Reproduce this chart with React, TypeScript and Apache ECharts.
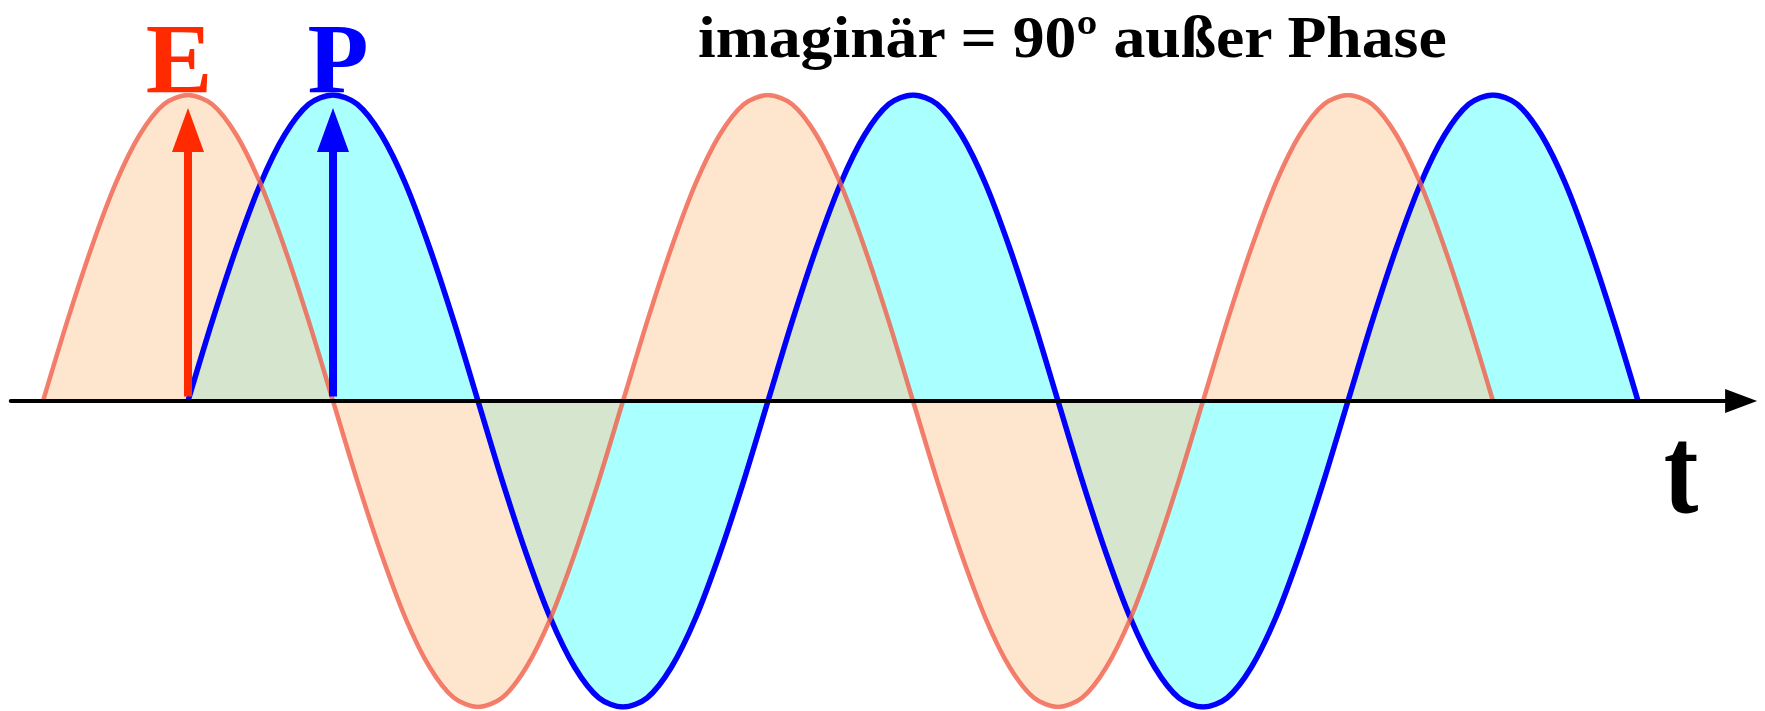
import React, { useEffect, useRef } from "react";
import * as echarts from "echarts";

// Phase positions (degrees) and amplitudes, every 15 degrees
const E_PHASE = [
  0, 15, 30, 45, 60, 75, 90, 105, 120, 135, 150, 165, 180, 195, 210, 225, 240, 255, 270, 285, 300, 315, 330, 345,
  360, 375, 390, 405, 420, 435, 450, 465, 480, 495, 510, 525, 540, 555, 570, 585, 600, 615, 630, 645, 660, 675, 690, 705,
  720, 735, 750, 765, 780, 795, 810, 825, 840, 855, 870, 885, 900,
];
const E_VALUES = [
  0, 0.26, 0.5, 0.71, 0.87, 0.97, 1, 0.97, 0.87, 0.71, 0.5, 0.26, 0, -0.26, -0.5, -0.71, -0.87, -0.97, -1, -0.97, -0.87, -0.71, -0.5, -0.26,
  0, 0.26, 0.5, 0.71, 0.87, 0.97, 1, 0.97, 0.87, 0.71, 0.5, 0.26, 0, -0.26, -0.5, -0.71, -0.87, -0.97, -1, -0.97, -0.87, -0.71, -0.5, -0.26,
  0, 0.26, 0.5, 0.71, 0.87, 0.97, 1, 0.97, 0.87, 0.71, 0.5, 0.26, 0,
];
const P_PHASE = [
  90, 105, 120, 135, 150, 165, 180, 195, 210, 225, 240, 255, 270, 285, 300, 315, 330, 345, 360, 375, 390, 405, 420, 435,
  450, 465, 480, 495, 510, 525, 540, 555, 570, 585, 600, 615, 630, 645, 660, 675, 690, 705, 720, 735, 750, 765, 780, 795,
  810, 825, 840, 855, 870, 885, 900, 915, 930, 945, 960, 975, 990,
];
const P_VALUES = [
  0, 0.26, 0.5, 0.71, 0.87, 0.97, 1, 0.97, 0.87, 0.71, 0.5, 0.26, 0, -0.26, -0.5, -0.71, -0.87, -0.97, -1, -0.97, -0.87, -0.71, -0.5, -0.26,
  0, 0.26, 0.5, 0.71, 0.87, 0.97, 1, 0.97, 0.87, 0.71, 0.5, 0.26, 0, -0.26, -0.5, -0.71, -0.87, -0.97, -1, -0.97, -0.87, -0.71, -0.5, -0.26,
  0, 0.26, 0.5, 0.71, 0.87, 0.97, 1, 0.97, 0.87, 0.71, 0.5, 0.26, 0,
];

// Phasor arrows: [phase, start value, end value]
const E_ARROW = [90, 0.015, 0.886];
const P_ARROW = [180, 0.015, 0.886];

const TITLE = "imaginär = 90º außer Phase";
const E_LABEL = "E";
const P_LABEL = "P";
const AXIS_LABEL = "t";

const X_MIN = -20;
const X_MAX = 1054;

export default function App() {
  const ref = useRef<HTMLDivElement>(null);
  useEffect(() => {
    if (!ref.current) return;
    const chart = echarts.init(ref.current, undefined, { renderer: "svg" });
    const pxPerDeg = 1450 / 900;
    const originPx = 43;
    const serif = "'Liberation Serif', 'Times New Roman', serif";
    const red = "#ff2a00";
    const blue = "#0000ff";
    const zip = (xs: number[], ys: number[]) => xs.map((x, i) => [x, ys[i]]);

    chart.setOption({
      animation: false,
      backgroundColor: "#ffffff",
      grid: {
        left: originPx + X_MIN * pxPerDeg,
        width: (X_MAX - X_MIN) * pxPerDeg,
        top: 95,
        height: 612,
        containLabel: false,
      },
      xAxis: {
        type: "value",
        min: X_MIN,
        max: X_MAX,
        z: 10,
        axisLine: {
          show: true,
          onZero: true,
          symbol: ["none", "triangle"],
          symbolSize: [24, 32],
          lineStyle: { color: "#000000", width: 4 },
        },
        axisTick: { show: false },
        axisLabel: { show: false },
        splitLine: { show: false },
      },
      yAxis: {
        type: "value",
        min: -1,
        max: 1,
        show: false,
        splitLine: { show: false },
      },
      series: [
        {
          name: "P",
          type: "line",
          data: zip(P_PHASE, P_VALUES),
          smooth: 0.3,
          showSymbol: false,
          silent: true,
          lineStyle: { color: blue, width: 5.5 },
          areaStyle: { color: "#aaffff", opacity: 1 },
          markLine: {
            silent: true,
            symbol: ["none", "triangle"],
            symbolSize: [32, 44],
            label: { show: false },
            lineStyle: { color: blue, width: 8, type: "solid" },
            data: [[{ coord: [P_ARROW[0], P_ARROW[1]] }, { coord: [P_ARROW[0], P_ARROW[2]] }]],
          },
        },
        {
          name: "E",
          type: "line",
          data: zip(E_PHASE, E_VALUES),
          smooth: 0.3,
          showSymbol: false,
          silent: true,
          lineStyle: { color: "rgba(240,95,75,0.8)", width: 4.5 },
          areaStyle: { color: "rgba(251,207,164,0.54)", opacity: 1 },
          markLine: {
            silent: true,
            symbol: ["none", "triangle"],
            symbolSize: [32, 44],
            label: { show: false },
            lineStyle: { color: red, width: 8, type: "solid" },
            data: [[{ coord: [E_ARROW[0], E_ARROW[1]] }, { coord: [E_ARROW[0], E_ARROW[2]] }]],
          },
        },
      ],
      graphic: [
        {
          type: "text",
          x: 698,
          y: 37,
          scaleX: 1.08,
          z: 100,
          style: {
            text: TITLE,
            fontSize: 59,
            lineHeight: 50,
            fontFamily: serif,
            fontWeight: "bold",
            fill: "#000000",
            align: "left",
            verticalAlign: "middle",
          },
        },
        {
          type: "text",
          x: 179,
          y: 58,
          z: 100,
          style: {
            text: E_LABEL,
            fontSize: 100,
            lineHeight: 80,
            fontFamily: serif,
            fontWeight: "bold",
            fill: red,
            align: "center",
            verticalAlign: "middle",
          },
        },
        {
          type: "text",
          x: 338,
          y: 58,
          z: 100,
          style: {
            text: P_LABEL,
            fontSize: 100,
            lineHeight: 80,
            fontFamily: serif,
            fontWeight: "bold",
            fill: blue,
            align: "center",
            verticalAlign: "middle",
          },
        },
        {
          type: "text",
          x: 1681,
          y: 470,
          scaleY: 1.2,
          z: 100,
          style: {
            text: AXIS_LABEL,
            fontSize: 104,
            lineHeight: 80,
            fontFamily: serif,
            fontWeight: "bold",
            fill: "#000000",
            align: "center",
            verticalAlign: "middle",
          },
        },
      ],
    });
    return () => chart.dispose();
  }, []);
  return (
    <div
      ref={ref}
      style={{ position: "fixed", left: 0, top: 0, width: 1765, height: 711, background: "#fff" }}
    />
  );
}
